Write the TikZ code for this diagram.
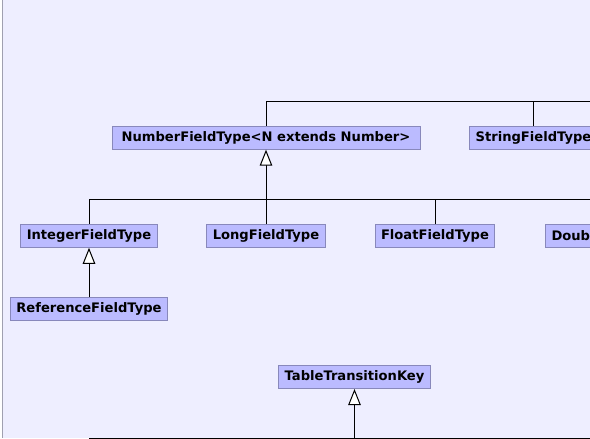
\documentclass[tikz,border=0pt]{standalone}
\usepackage{fontspec}
\setmainfont{DejaVu Sans}
\usetikzlibrary{positioning,arrows.meta}
\definecolor{PageLav}{RGB}{238,238,255}
\definecolor{BoxFill}{RGB}{187,187,255}
\definecolor{BoxLine}{RGB}{136,136,187}
\definecolor{EdgeGray}{RGB}{160,160,176}
\tikzset{
  cls/.style={draw=BoxLine,fill=BoxFill,line width=1pt,inner xsep=6pt,inner ysep=0pt,
    minimum height=23pt,font=\bfseries\fontsize{13.1}{15}\selectfont},
  tree/.style={draw=black,line width=1pt},
  inherit/.style={tree,-{Triangle[open,fill=white,length=16pt,width=12.5pt]}},
}

\begin{document}
\begin{tikzpicture}[x=1pt,y=-1pt]
\useasboundingbox (0,0) rectangle (590,439);
\clip (0,0) rectangle (590,439);
\fill[PageLav] (2.5,0) rectangle (600,437.5);
\draw[EdgeGray,line width=1pt] (2.5,0) -- (2.5,437.5);
% classes
\node[cls,minimum width=308pt] (numb) at (266,137.7) {NumberFieldType<N extends Number>};
\node[cls] (strg) at (533.5,137.7) {StringFieldType};
\node[cls] (intg) at (89,235.8) {IntegerFieldType};
\node[cls] (long) at (266,235.8) {LongFieldType};
\node[cls] (flt) at (435,235.8) {FloatFieldType};
\node[cls,anchor=west,text width=122pt,align=left] (dbl) at (545,235.8) {Doub};
\node[cls] (ref) at (89,308.8) {ReferenceFieldType};
\node[cls] (ttk) at (354.5,377) {TableTransitionKey};
% free ends of the tree lines
\coordinate (top) at (600,101.5);
\coordinate (mid) at (266,199.3);
\coordinate (midR) at (600,199.3);
\coordinate (lowL) at (89,438.3);
\coordinate (lowR) at (600,438.3);
% connectors
\draw[tree] (numb.north) |- (top);
\draw[tree] (strg.north) |- (top);
\draw[inherit] (long.north) -- (numb.south);
\draw[tree] (intg.north) |- (midR);
\draw[tree] (flt.north) |- (mid);
\draw[inherit] (ref.north) -- (intg.south);
\draw[tree] (lowL) -- (lowR);
\draw[inherit] (ttk.south |- lowL) -- (ttk.south);
\end{tikzpicture}
\end{document}
